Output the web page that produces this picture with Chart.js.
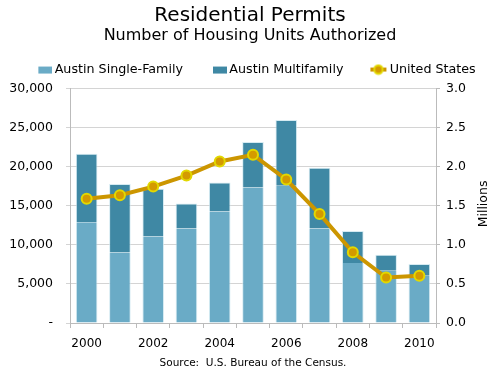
<!DOCTYPE html>
<html>
<head>
<meta charset="utf-8">
<script src="https://cdn.jsdelivr.net/npm/chart.js@4"></script>
<style>
  html, body { margin: 0; padding: 0; background: #fff; }
  #wrap { width: 500px; height: 375px; position: relative; }
</style>
</head>
<body>
<div id="wrap"><canvas id="chart"></canvas></div>
<script>
// data
const years = ['2000', '2001', '2002', '2003', '2004', '2005', '2006', '2007', '2008', '2009', '2010'];
const singleFamily = [12900, 9050, 11100, 12100, 14300, 17350, 17600, 12100, 7700, 6700, 6050];
const multiFamily = [8800, 8750, 6100, 3200, 3700, 5850, 8400, 7800, 4100, 2050, 1500];
const usPermits = [1.592, 1.637, 1.748, 1.889, 2.070, 2.155, 1.839, 1.398, 0.906, 0.583, 0.605];

const lightBlue = '#6aabc6';
const darkBlue = '#3f88a4';
const gold = '#cc9600';
const barEdge = 'rgba(200,228,238,0.75)';

Chart.defaults.font.family = "'DejaVu Sans', Verdana, sans-serif";
Chart.defaults.color = '#111';

// legend icons: a wide transparent canvas with the mark on its right end,
// so the gap before each item is large and the gap to its text small
const ICON_BOX = 30;
function iconCanvas() {
    const c = document.createElement('canvas');
    c.width = ICON_BOX + 8; c.height = 12;
    return c;
}
function makeBox(color) {
    const c = iconCanvas();
    const g = c.getContext('2d');
    g.fillStyle = color;
    g.fillRect(c.width - 14, 3, 14, 7);
    return c;
}
function makeLineIcon() {
    const c = iconCanvas();
    const g = c.getContext('2d');
    const x0 = c.width - 17;
    g.strokeStyle = gold;
    g.lineWidth = 4;
    g.beginPath(); g.moveTo(x0, 6); g.lineTo(c.width - 1, 6); g.stroke();
    g.beginPath(); g.arc(x0 + 8, 6, 4.2, 0, Math.PI * 2);
    g.fillStyle = '#d49a00'; g.fill();
    g.lineWidth = 2; g.strokeStyle = '#e2d800'; g.stroke();
    return c;
}
const legendIcons = [makeBox(lightBlue), makeBox(darkBlue), makeLineIcon()];

// a little more room under the legend, and nudge it left a bit
const legendTweak = {
    id: 'legendTweak',
    afterInit(chart) {
        const lg = chart.legend;
        if (!lg) return;
        const fit = lg.fit;
        lg.fit = function () {
            fit.call(this);
            this.height += 3;
        };
    },
    afterLayout(chart) {
        const lg = chart.legend;
        if (!lg) return;
        lg.left -= 3;
        lg.right -= 3;
    }
};

// right axis title reads bottom to top
const rightTitle = {
    id: 'rightTitle',
    afterDraw(chart) {
        const { ctx, chartArea } = chart;
        ctx.save();
        ctx.translate(484, (chartArea.top + chartArea.bottom) / 2 - 2);
        ctx.rotate(-Math.PI / 2);
        ctx.font = "12.5px 'DejaVu Sans', Verdana, sans-serif";
        ctx.fillStyle = '#000';
        ctx.textAlign = 'center';
        ctx.textBaseline = 'middle';
        ctx.fillText('Millions', 0, 0);
        ctx.restore();
    }
};

const ctx = document.getElementById('chart').getContext('2d');
new Chart(ctx, {
    data: {
        labels: years,
        datasets: [
            {
                type: 'bar',
                label: 'Austin Single-Family',
                data: singleFamily,
                backgroundColor: lightBlue,
                borderColor: barEdge,
                borderWidth: { left: 1, right: 1, top: 0, bottom: 0 },
                stack: 'austin',
                yAxisID: 'y',
                order: 1,
                barPercentage: 0.65,
                categoryPercentage: 1
            },
            {
                type: 'bar',
                label: 'Austin Multifamily',
                data: multiFamily,
                backgroundColor: darkBlue,
                borderColor: barEdge,
                borderWidth: { left: 1, right: 1, top: 1, bottom: 0 },
                stack: 'austin',
                yAxisID: 'y',
                order: 1,
                barPercentage: 0.65,
                categoryPercentage: 1
            },
            {
                type: 'line',
                label: 'United States',
                data: usPermits,
                yAxisID: 'y1',
                order: 0,
                borderColor: gold,
                borderWidth: 4,
                pointRadius: 5,
                pointBackgroundColor: '#d49a00',
                pointBorderColor: '#e2d800',
                pointBorderWidth: 2,
                tension: 0
            }
        ]
    },
    plugins: [legendTweak, rightTitle],
    options: {
        responsive: true,
        maintainAspectRatio: false,
        animation: false,
        layout: { padding: { left: 0, right: 0, top: 4, bottom: 5 } },
        plugins: {
            title: {
                display: true,
                text: 'Residential Permits',
                font: { size: 20, weight: 'normal' },
                color: '#000',
                padding: { top: 0, bottom: 0 }
            },
            subtitle: {
                display: true,
                text: 'Number of Housing Units Authorized',
                font: { size: 16, weight: 'normal' },
                color: '#000',
                padding: { top: -2, bottom: 8 }
            },
            legend: {
                position: 'top',
                labels: {
                    usePointStyle: true,
                    pointStyleWidth: ICON_BOX,
                    font: { size: 12.7 },
                    color: '#000',
                    padding: 10,
                    generateLabels(chart) {
                        const items = Chart.defaults.plugins.legend.labels.generateLabels(chart);
                        items.forEach(it => { it.pointStyle = legendIcons[it.datasetIndex]; });
                        return items.sort((a, b) => a.datasetIndex - b.datasetIndex);
                    }
                }
            },
            tooltip: { enabled: false }
        },
        scales: {
            x: {
                type: 'category',
                offset: true,
                border: { color: '#bbb' },
                grid: { offset: true, drawOnChartArea: false, color: '#bbb', tickLength: 5 },
                ticks: {
                    autoSkip: false,
                    maxRotation: 0,
                    padding: 9,
                    font: { size: 12 },
                    color: '#000',
                    callback: function (value, index) {
                        return index % 2 === 0 ? this.getLabelForValue(value) : '';
                    }
                },
                title: {
                    display: true,
                    text: 'Source:  U.S. Bureau of the Census.',
                    font: { size: 10.5 },
                    color: '#000',
                    padding: { top: -3, bottom: 0 }
                }
            },
            y: {
                position: 'left',
                stacked: true,
                min: 0,
                max: 30000,
                afterFit: axis => { axis.width = 70; },
                border: { color: '#bbb' },
                grid: { color: '#d4d4d4', tickLength: 4 },
                ticks: {
                    stepSize: 5000,
                    font: { size: 12.5 },
                    color: '#000',
                    padding: 13,
                    callback: v => v === 0 ? '-' : v.toLocaleString('en-US')
                }
            },
            y1: {
                position: 'right',
                min: 0,
                max: 3,
                afterFit: axis => { axis.width = 64; },
                border: { color: '#bbb' },
                grid: { drawOnChartArea: false, color: '#bbb', tickLength: 4 },
                ticks: {
                    stepSize: 0.5,
                    font: { size: 12.5 },
                    color: '#000',
                    padding: 6,
                    callback: v => v.toFixed(1)
                }
            }
        }
    }
});
</script>
</body>
</html>
